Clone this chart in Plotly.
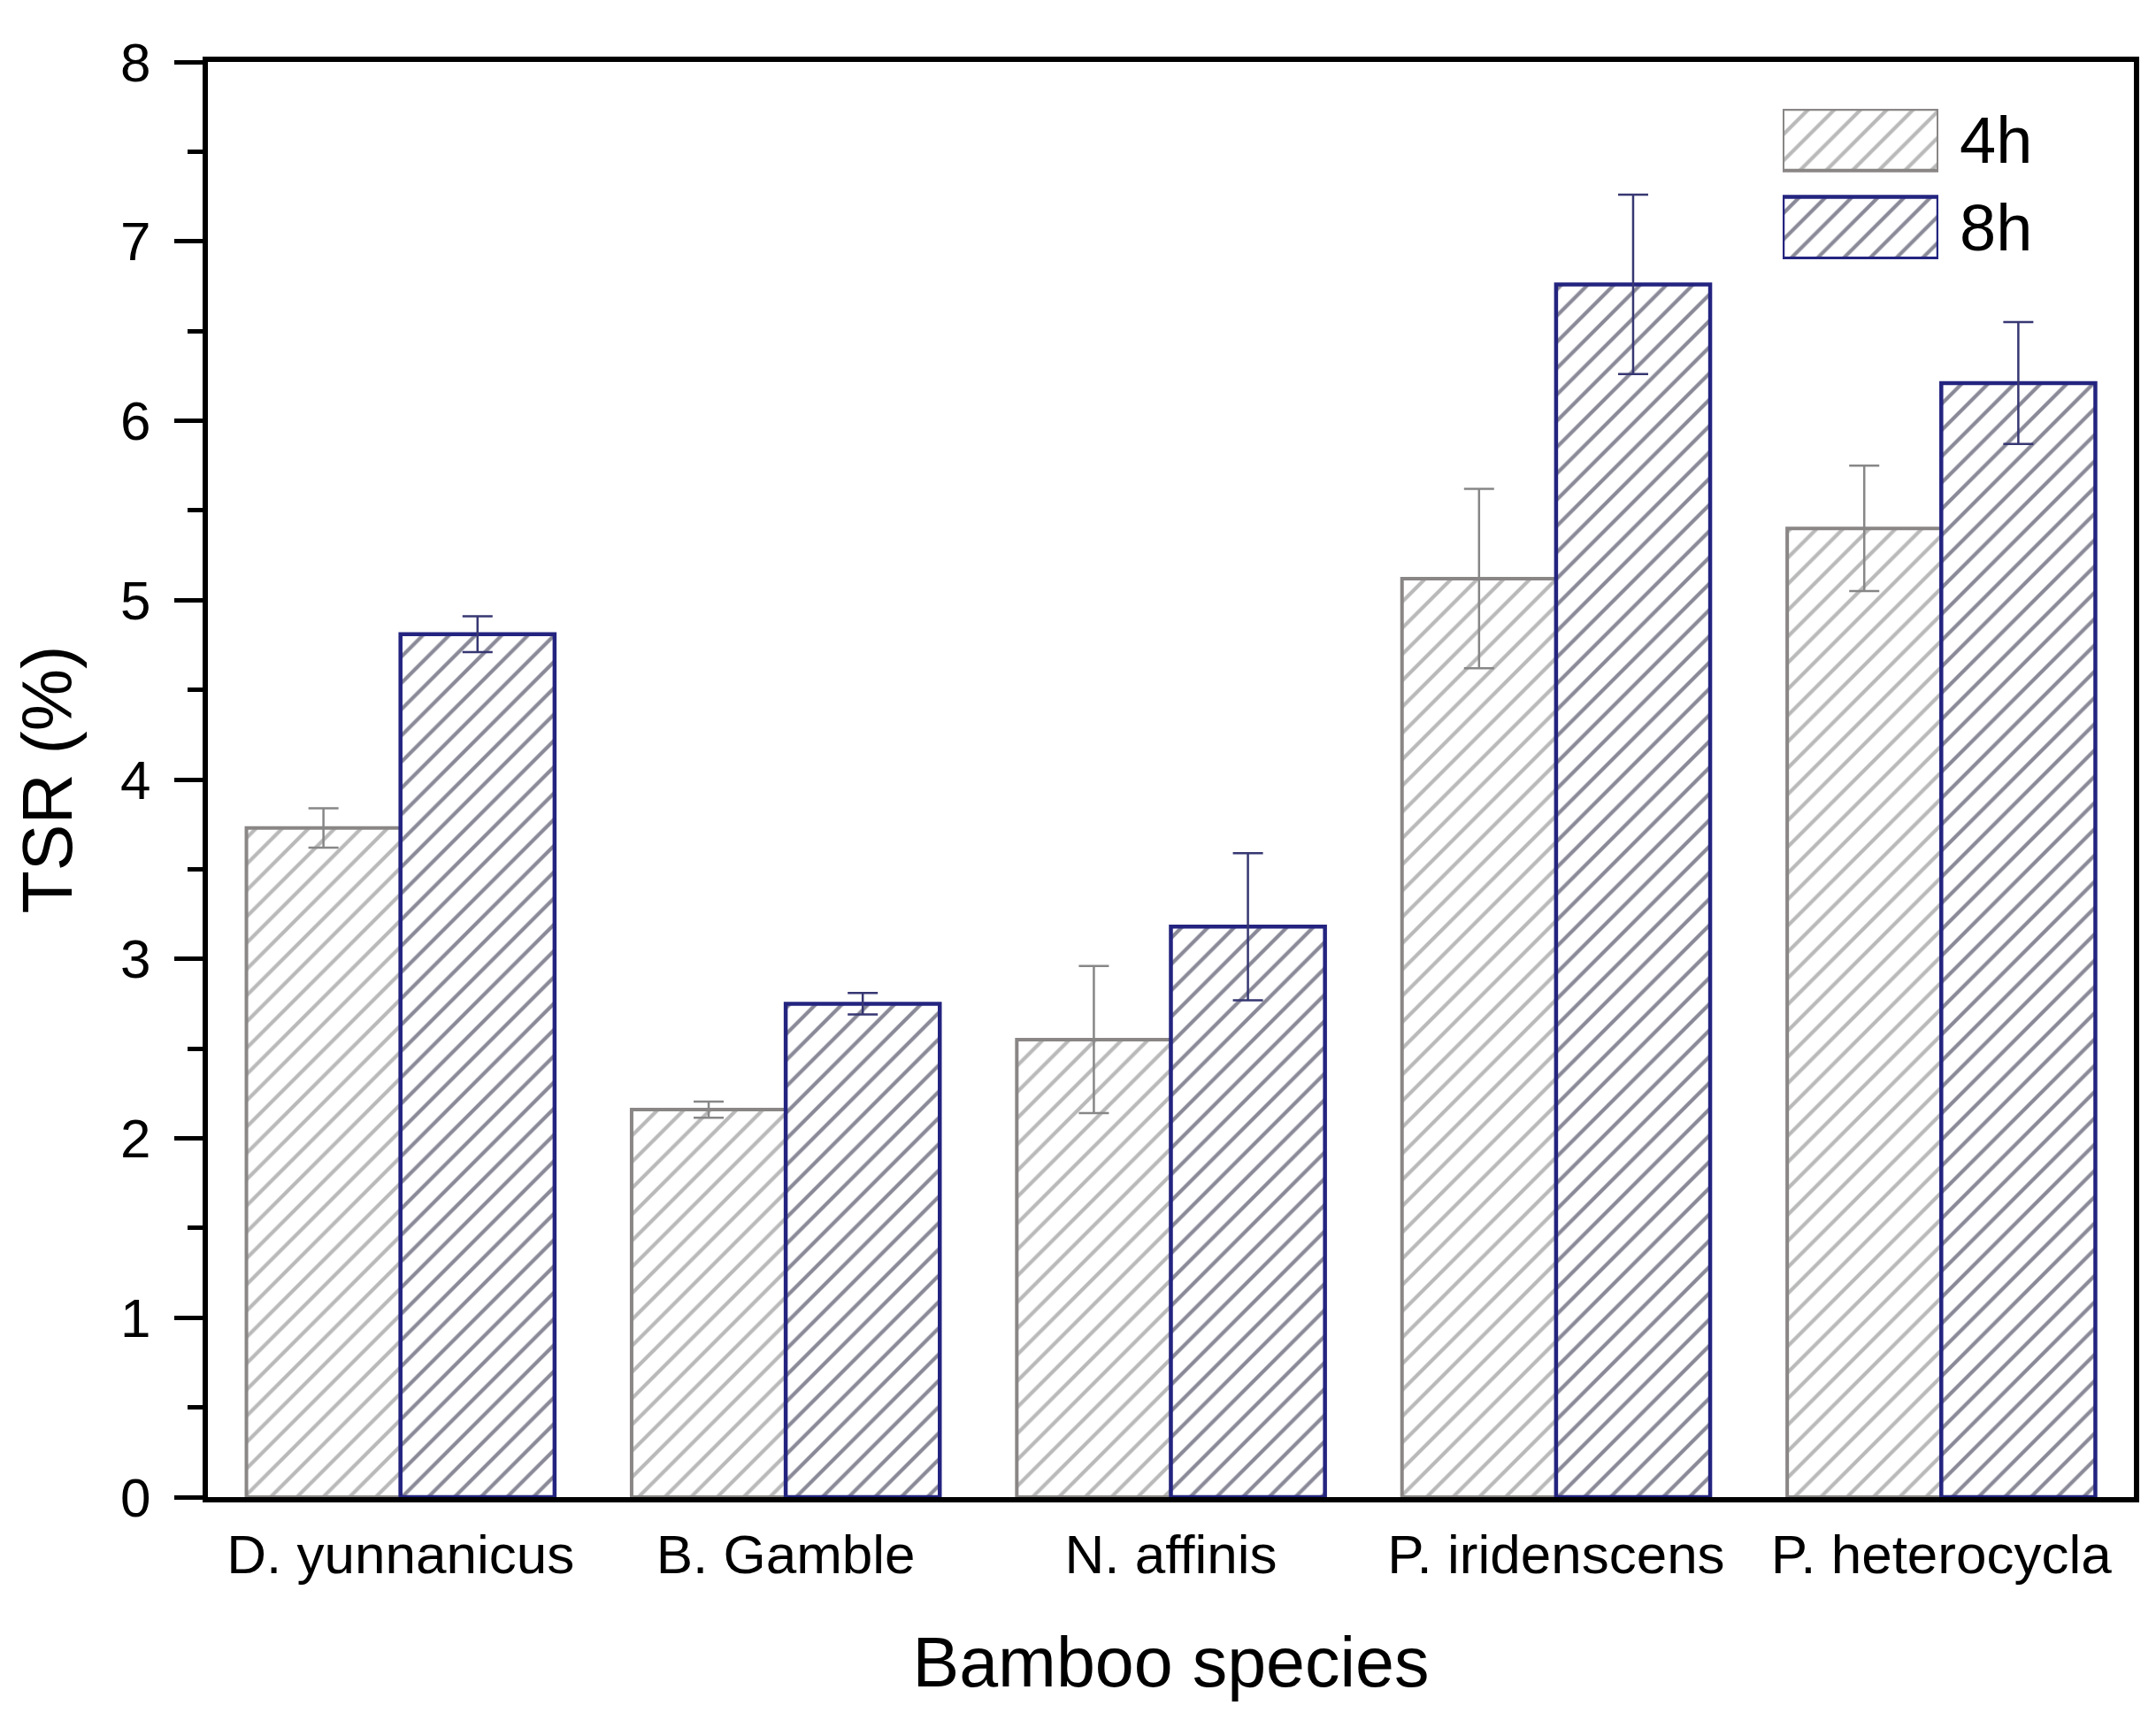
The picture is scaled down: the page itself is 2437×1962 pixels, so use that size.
import plotly.graph_objects as go

species = ["D. yunnanicus", "B. Gamble", "N. affinis", "P. iridenscens", "P. heterocycla"]
tsr_4h = [3.73, 2.16, 2.55, 5.12, 5.40]
err_4h = [0.11, 0.045, 0.41, 0.50, 0.35]
tsr_8h = [4.81, 2.75, 3.18, 6.76, 6.21]
err_8h = [0.10, 0.06, 0.41, 0.50, 0.34]
series_names = ["4h", "8h"]
y_ticks = [0, 1, 2, 3, 4, 5, 6, 7, 8]

W, H = 2437, 1962
L, R, T, B = 235, 25, 70, 270
FONT = "Liberation Sans, Arial, sans-serif"

GRAY_LINE = "rgb(138,134,134)"
GRAY_HATCH = "rgb(115,115,115)"
BLUE_LINE = "rgb(36,36,128)"
BLUE_HATCH = "rgb(20,20,50)"
ERR_GRAY = "rgb(135,135,135)"
ERR_BLUE = "rgb(55,55,115)"
SOL = 0.2

fig = go.Figure()
fig.add_trace(go.Bar(
    x=species, y=tsr_4h, name=series_names[0],
    marker=dict(color="white", line=dict(color=GRAY_LINE, width=4),
                pattern=dict(shape="/", fgcolor=GRAY_HATCH, bgcolor="white", size=21, solidity=SOL)),
    error_y=dict(type="data", array=err_4h, color=ERR_GRAY, thickness=2.5, width=17),
    showlegend=False,
))
fig.add_trace(go.Bar(
    x=species, y=tsr_8h, name=series_names[1],
    marker=dict(color="white", line=dict(color=BLUE_LINE, width=4.5),
                pattern=dict(shape="/", fgcolor=BLUE_HATCH, bgcolor="white", size=21, solidity=SOL)),
    error_y=dict(type="data", array=err_8h, color=ERR_BLUE, thickness=2.5, width=17),
    showlegend=False,
))

# legend swatches drawn on an auxiliary axis pair
plot_w = W - L - R
plot_h = H - T - B
lx0 = (2015 - L) / plot_w
lx1 = (2191 - L) / plot_w
ly0 = (H - B - 293) / plot_h
ly1 = (H - B - 123) / plot_h
fig.add_trace(go.Bar(
    x=[1], y=[0.794], base=[0], orientation="h", width=[0.41],
    xaxis="x2", yaxis="y2", showlegend=False, hoverinfo="skip",
    marker=dict(color="white", line=dict(color=GRAY_LINE, width=4),
                pattern=dict(shape="/", fgcolor=GRAY_HATCH, bgcolor="white", size=21, solidity=SOL)),
))
fig.add_trace(go.Bar(
    x=[1], y=[0.209], base=[0], orientation="h", width=[0.41],
    xaxis="x2", yaxis="y2", showlegend=False, hoverinfo="skip",
    marker=dict(color="white", line=dict(color=BLUE_LINE, width=4.5),
                pattern=dict(shape="/", fgcolor=BLUE_HATCH, bgcolor="white", size=21, solidity=SOL)),
))
for name, yv in zip(series_names, [0.794, 0.209]):
    fig.add_annotation(x=1.0, y=yv, xref="x2", yref="y2", text=name, showarrow=False,
                       xanchor="left", yanchor="middle", xshift=22,
                       font=dict(family=FONT, size=74, color="black"))

fig.update_layout(
    width=W, height=H,
    margin=dict(l=L, r=R, t=T, b=B, pad=0),
    paper_bgcolor="white", plot_bgcolor="white",
    barmode="group", bargap=0.2, bargroupgap=0,
    font=dict(family=FONT, color="black"),
    xaxis=dict(
        range=[-0.5, 4.5], showline=True, linecolor="black", linewidth=6, mirror=True,
        ticks="", showgrid=False, zeroline=False,
        tickfont=dict(size=62, family=FONT, color="black"),
        ticklabelstandoff=6,
        title=dict(text="Bamboo species", font=dict(size=79, family=FONT, color="black"), standoff=62),
    ),
    yaxis=dict(
        range=[0, 8], tickvals=y_ticks, showline=True, linecolor="black", linewidth=6, mirror=True,
        ticks="outside", ticklen=32, tickwidth=5, tickcolor="black",
        minor=dict(dtick=0.5, ticks="outside", ticklen=17, tickwidth=5, tickcolor="black", showgrid=False),
        showgrid=False, zeroline=False,
        tickfont=dict(size=62, family=FONT, color="black"),
        ticklabelstandoff=14,
        title=dict(text="TSR (%)", font=dict(size=79, family=FONT, color="black"), standoff=30),
    ),
    xaxis2=dict(domain=[lx0, lx1], range=[0, 1], anchor="y2", visible=False, fixedrange=True),
    yaxis2=dict(domain=[ly0, ly1], range=[0, 1], anchor="x2", visible=False, fixedrange=True),
)

fig.write_html("out.html")
